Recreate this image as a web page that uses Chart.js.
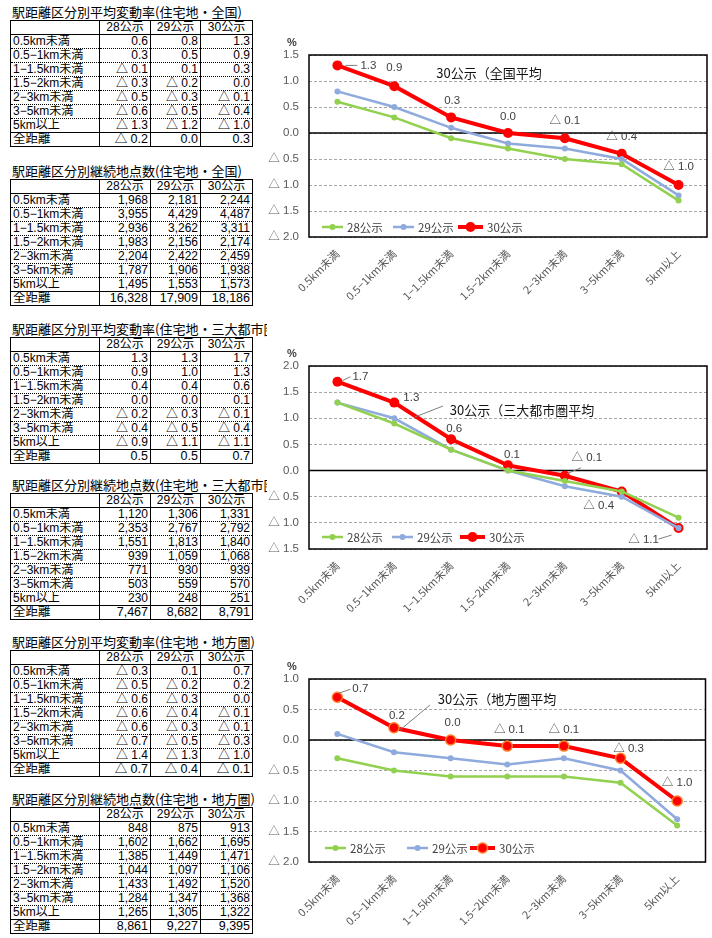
<!DOCTYPE html>
<html>
<head>
<meta charset="utf-8">
<script src="https://cdn.jsdelivr.net/npm/chart.js"></script>
<style>
body{margin:0;background:#fff;width:712px;height:938px;overflow:hidden;position:relative;font-family:'Liberation Sans','Noto Sans CJK JP',sans-serif;}
.blk{position:absolute;left:10px;}
.ttl{font-family:'Noto Sans CJK JP',sans-serif;font-size:13px;line-height:17px;height:17px;width:255px;white-space:nowrap;overflow:hidden;color:#000;margin-left:2px;}
table{border-collapse:collapse;border:1.5px solid #000;font-size:12px;table-layout:fixed;width:242px;}
td{height:13px;line-height:13px;padding:0 2px;border-left:1px solid #000;border-right:1px solid #000;border-bottom:1px dotted #000;white-space:nowrap;overflow:hidden;}
td.l{text-align:left;}
td.n{text-align:right;}
tr.h td{text-align:center;border-bottom:1px solid #000;}
tr.t td{border-top:1.5px solid #000;font-size:12.5px;}
.cw{position:absolute;left:260px;width:452px;}
</style>
</head>
<body>
<script>
// categories / series
const categories = ['0.5km未満','0.5−1km未満','1−1.5km未満','1.5−2km未満','2−3km未満','3−5km未満','5km以上'];
const seriesNames = ['28公示','29公示','30公示'];

// 全国
const nationRate28 = [0.6, 0.3, -0.1, -0.3, -0.5, -0.6, -1.3];
const nationRate29 = [0.8, 0.5, 0.1, -0.2, -0.3, -0.5, -1.2];
const nationRate30 = [1.3, 0.9, 0.3, 0.0, -0.1, -0.4, -1.0];
const nationRateTotal = [-0.2, 0.0, 0.3];
const nationCount28 = [1968, 3955, 2936, 1983, 2204, 1787, 1495];
const nationCount29 = [2181, 4429, 3262, 2156, 2422, 1906, 1553];
const nationCount30 = [2244, 4487, 3311, 2174, 2459, 1938, 1573];
const nationCountTotal = [16328, 17909, 18186];

// 三大都市圏
const metroRate28 = [1.3, 0.9, 0.4, 0.0, -0.2, -0.4, -0.9];
const metroRate29 = [1.3, 1.0, 0.4, 0.0, -0.3, -0.5, -1.1];
const metroRate30 = [1.7, 1.3, 0.6, 0.1, -0.1, -0.4, -1.1];
const metroRateTotal = [0.5, 0.5, 0.7];
const metroCount28 = [1120, 2353, 1551, 939, 771, 503, 230];
const metroCount29 = [1306, 2767, 1813, 1059, 930, 559, 248];
const metroCount30 = [1331, 2792, 1840, 1068, 939, 570, 251];
const metroCountTotal = [7467, 8682, 8791];

// 地方圏
const localRate28 = [-0.3, -0.5, -0.6, -0.6, -0.6, -0.7, -1.4];
const localRate29 = [0.1, -0.2, -0.3, -0.4, -0.3, -0.5, -1.3];
const localRate30 = [0.7, 0.2, 0.0, -0.1, -0.1, -0.3, -1.0];
const localRateTotal = [-0.7, -0.4, -0.1];
const localCount28 = [848, 1602, 1385, 1044, 1433, 1284, 1265];
const localCount29 = [875, 1662, 1449, 1097, 1492, 1347, 1305];
const localCount30 = [913, 1695, 1471, 1106, 1520, 1368, 1322];
const localCountTotal = [8861, 9227, 9395];

const fmtRate = v => v < 0 ? '△ ' + Math.abs(v).toFixed(1) : v.toFixed(1);
const fmtCount = v => v.toLocaleString('en-US');

function buildTable(top, title, cols, total, fmt){
  const div = document.createElement('div');
  div.className = 'blk';
  div.style.top = (top - 18) + 'px';
  let h = '<div class="ttl">' + title + '</div><table><colgroup><col style="width:89px"><col style="width:51px"><col style="width:50px"><col style="width:52px"></colgroup>';
  h += '<tr class="h"><td></td>' + seriesNames.map(n => '<td>' + n + '</td>').join('') + '</tr>';
  categories.forEach((c, i) => {
    h += '<tr><td class="l">' + c + '</td>' + cols.map(a => '<td class="n">' + fmt(a[i]) + '</td>').join('') + '</tr>';
  });
  h += '<tr class="t"><td class="l">全距離</td>' + total.map(v => '<td class="n">' + fmt(v) + '</td>').join('') + '</tr></table>';
  div.innerHTML = h;
  document.body.append(div);
}

buildTable(21, '駅距離区分別平均変動率(住宅地・全国)', [nationRate28, nationRate29, nationRate30], nationRateTotal, fmtRate);
buildTable(180, '駅距離区分別継続地点数(住宅地・全国)', [nationCount28, nationCount29, nationCount30], nationCountTotal, fmtCount);
buildTable(338, '駅距離区分別平均変動率(住宅地・三大都市圏)', [metroRate28, metroRate29, metroRate30], metroRateTotal, fmtRate);
buildTable(494, '駅距離区分別継続地点数(住宅地・三大都市圏)', [metroCount28, metroCount29, metroCount30], metroCountTotal, fmtCount);
buildTable(651, '駅距離区分別平均変動率(住宅地・地方圏)', [localRate28, localRate29, localRate30], localRateTotal, fmtRate);
buildTable(808, '駅距離区分別継続地点数(住宅地・地方圏)', [localCount28, localCount29, localCount30], localCountTotal, fmtCount);

const colors = ['#92D050', '#8FAADC', '#FF0000'];
const labelFont = "11.5px 'Liberation Sans','Noto Sans CJK JP',sans-serif";

// draws frame, zero line, legend, labels of the 30公示 line and the caption
const decor = {
  id: 'decor',
  beforeDatasetsDraw(chart){
    const {ctx, chartArea: a, scales: {y}} = chart;
    ctx.save();
    ctx.strokeStyle = '#000';
    ctx.lineWidth = 1.5;
    const y0 = y.getPixelForValue(0);
    ctx.beginPath(); ctx.moveTo(a.left, y0); ctx.lineTo(a.right, y0); ctx.stroke();
    ctx.strokeRect(a.left, a.top, a.right - a.left, a.bottom - a.top);
    ctx.restore();
  },
  afterDatasetsDraw(chart){
    const {ctx, chartArea: a} = chart;
    const o = chart.options.plugins.decor;
    ctx.save();
    // % unit
    ctx.font = "bold 11px 'Liberation Sans',sans-serif";
    ctx.fillStyle = '#404040';
    ctx.textAlign = 'center'; ctx.textBaseline = 'middle';
    ctx.fillText('%', a.left - 17, a.top - 12);

    // value labels for 30公示
    const meta = chart.getDatasetMeta(2);
    const vals = chart.data.datasets[2].data;
    ctx.font = labelFont;
    meta.data.forEach((p, i) => {
      const [dx, dy, lead] = o.offsets[i];
      if (lead){
        ctx.strokeStyle = '#7f7f7f'; ctx.lineWidth = 1;
        ctx.beginPath(); ctx.moveTo(p.x + lead[0], p.y + lead[1]); ctx.lineTo(p.x + lead[2], p.y + lead[3]); ctx.stroke();
      }
      ctx.fillStyle = '#404040';
      ctx.fillText(fmtRate(vals[i]), p.x + dx, p.y + dy);
    });

    // caption
    ctx.font = "13px 'Noto Sans CJK JP',sans-serif";
    ctx.fillStyle = '#111';
    ctx.fillText(o.caption, o.capX, o.capY);
    if (o.capLead){
      const l = o.capLead;
      ctx.strokeStyle = '#7f7f7f'; ctx.lineWidth = 1;
      ctx.beginPath(); ctx.moveTo(l[0], l[1]); ctx.lineTo(l[2], l[3]); ctx.stroke();
    }

    // legend
    const ly = a.bottom - o.legendDy;
    chart.data.datasets.forEach((ds, i) => {
      const x = a.left + o.legendX[i];
      const len = i === 2 ? 25 : 21;
      ctx.strokeStyle = ds.borderColor; ctx.lineWidth = ds.borderWidth;
      ctx.beginPath(); ctx.moveTo(x, ly); ctx.lineTo(x + len, ly); ctx.stroke();
      ctx.beginPath(); ctx.arc(x + len / 2, ly, ds.pointRadius, 0, Math.PI * 2);
      ctx.fillStyle = ds.pointBackgroundColor; ctx.fill();
      if (ds.pointBorderWidth){ ctx.strokeStyle = ds.pointBorderColor; ctx.lineWidth = ds.pointBorderWidth; ctx.stroke(); }
      ctx.font = "11.5px 'Noto Sans CJK JP',sans-serif";
      ctx.fillStyle = '#404040';
      ctx.textAlign = 'left';
      ctx.fillText(ds.label, x + len + 4, ly + 1);
      ctx.textAlign = 'center';
    });
    ctx.restore();
  }
};

function makeChart(box, rates, o){
  const wrap = document.createElement('div');
  wrap.className = 'cw';
  wrap.style.top = box.top + 'px';
  wrap.style.height = box.height + 'px';
  const cv = document.createElement('canvas');
  wrap.append(cv);
  document.body.append(wrap);

  const datasets = rates.map((r, i) => ({
    label: seriesNames[i],
    data: r,
    borderColor: colors[i],
    backgroundColor: colors[i],
    pointBackgroundColor: colors[i],
    pointBorderColor: i === 2 ? (o.redRing || colors[i]) : colors[i],
    pointBorderWidth: i === 2 && o.redRing ? 1.5 : 0,
    borderWidth: i === 2 ? 4 : 2.5,
    pointRadius: i === 2 ? 5 : 3,
    tension: 0
  }));

  return new Chart(cv, {
    type: 'line',
    data: {labels: categories, datasets},
    options: {
      responsive: true,
      maintainAspectRatio: false,
      animation: false,
      layout: {padding: {top: box.padTop, right: 5, left: 0, bottom: 0}},
      plugins: {legend: {display: false}, tooltip: {enabled: false}, decor: o},
      scales: {
        x: {
          offset: true,
          grid: {display: false},
          border: {display: false},
          afterFit: s => { s.height = box.xHeight; },
          ticks: {
            autoSkip: false, maxRotation: 45, minRotation: 45, padding: 2,
            color: '#595959',
            font: {family: "'Noto Sans CJK JP',sans-serif", size: 11}
          }
        },
        y: {
          min: o.min, max: o.max,
          afterFit: s => { s.width = 49; },
          grid: {color: '#A6A6A6', lineWidth: 1, drawTicks: false},
          border: {display: false, dash: [3, 2]},
          ticks: {
            stepSize: 0.5, padding: 10,
            color: '#595959',
            font: {family: "'Liberation Sans','Noto Sans CJK JP',sans-serif", size: 11.5},
            callback: v => fmtRate(v)
          }
        }
      }
    },
    plugins: [decor]
  });
}

makeChart({top: 30, height: 290, padTop: 25, xHeight: 83},
  [nationRate28, nationRate29, nationRate30], {
  min: -2, max: 1.5,
  offsets: [[31, 0, [8, 0, 20, 0]], [0, -18], [1, -17], [0, -16], [0, -17], [0, -17], [0, -18]],
  caption: '30公示（全国平均', capX: 229, capY: 43,
  legendDy: 10, legendX: [13, 84, 149]
});

makeChart({top: 340, height: 290, padTop: 26, xHeight: 81},
  [metroRate28, metroRate29, metroRate30], {
  min: -1.5, max: 2.0,
  offsets: [[23, -5, [5, -1, 13, -5]], [17, -5], [3, -10], [4, -11], [22, -18, [2, -2, 16, -8]], [-23, 14], [-35, 12, [-20, 11, -7, 7]]],
  caption: '30公示（三大都市圏平均', capX: 262, capY: 70, capLead: [155, 77, 183, 66],
  legendDy: 12, legendX: [13, 83, 151]
});

makeChart({top: 650, height: 288, padTop: 29, xHeight: 76},
  [localRate28, localRate29, localRate30], {
  min: -2, max: 1.0,
  offsets: [[23, -8, [1, -4, 13, -8]], [3, -12], [2, -17], [2, -16], [0, -16], [8, -9], [0, -18]],
  caption: '30公示（地方圏平均', capX: 237, capY: 49, capLead: [140, 80, 170, 55],
  legendDy: 14, legendX: [16, 98, 161],
  redRing: '#FF7F27'
});
</script>
</body>
</html>
